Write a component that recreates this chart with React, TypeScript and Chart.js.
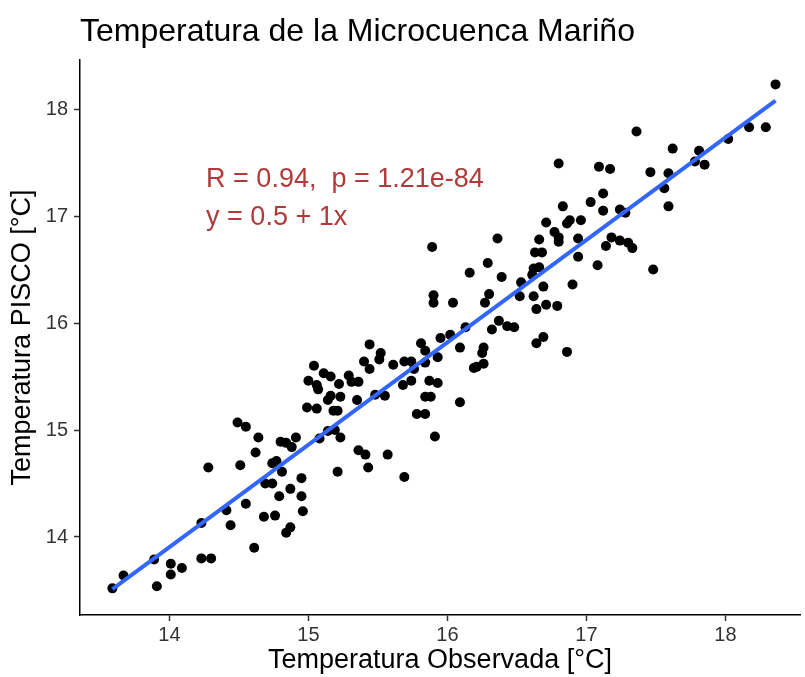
import React, { useEffect, useRef } from "react";
import { Chart, registerables } from "chart.js";

Chart.register(...registerables);

const observedTemp: number[] = [
  13.59, 13.67, 13.89, 13.91, 14.01, 14.01, 14.09, 14.23, 14.30, 14.23,
  14.28, 14.41, 14.44, 14.55, 14.49, 14.55, 14.64, 14.62, 14.51, 14.80,
  14.84, 14.74, 14.77, 14.81, 14.69, 14.74, 14.79, 14.87, 14.68, 14.76,
  14.87, 14.84, 14.61,
  15.44, 15.52, 15.51, 15.40, 15.44, 15.61, 15.69, 15.74, 15.81, 15.84,
  15.95, 16.02, 16.09, 15.93, 15.84, 15.76, 15.74, 15.68, 15.87, 15.93,
  15.84, 15.88, 15.78, 15.84, 15.91, 16.09, 16.19, 15.04, 15.00, 15.06,
  15.07, 15.11, 15.16, 15.22, 15.29, 15.31, 15.36, 15.16, 15.14, 15.23,
  14.99, 15.06, 15.18, 15.21, 15.35, 15.48, 15.55, 15.14, 15.19, 15.23,
  15.08, 14.91, 14.88, 14.95, 14.95, 15.21, 15.36, 15.41, 15.57, 15.43,
  15.69, 14.96,
  15.89, 16.36, 16.71, 16.86, 16.88, 16.96, 16.77, 16.80, 16.80, 16.66,
  16.94, 17.18, 17.14, 16.63, 16.68, 16.94, 16.29, 16.16, 16.62, 16.66,
  16.61, 16.39, 17.08, 16.53, 16.69, 16.90, 15.90, 15.90, 16.04, 16.30,
  16.27, 16.52, 16.62, 16.64, 16.71, 16.79, 16.37, 16.32, 16.43, 16.48,
  16.13, 16.26, 16.25, 16.21, 16.26, 16.64, 16.69, 16.86, 16.80, 16.83,
  18.36, 17.36, 17.62, 17.81, 17.78, 17.85, 18.02, 18.17, 18.29, 17.09,
  17.17, 17.46, 17.59, 17.56, 17.59, 17.12, 17.03, 17.12, 17.24, 17.28,
  17.24, 17.30, 17.33, 17.48,
];

const piscoTemp: number[] = [
  13.52, 13.64, 13.79, 13.54, 13.75, 13.65, 13.71, 13.80, 13.80, 14.13,
  14.65, 14.25, 14.11, 14.31, 15.07, 15.03, 14.93, 14.79, 14.67, 14.89,
  14.88, 14.69, 14.71, 14.61, 14.50, 14.50, 14.38, 14.45, 14.19, 14.20,
  14.09, 14.04, 13.90,
  15.80, 15.72, 15.66, 15.64, 15.57, 15.61, 15.64, 15.64, 15.81, 15.74,
  15.86, 15.89, 15.77, 15.68, 15.63, 15.57, 15.46, 15.42, 15.46, 15.44,
  15.31, 15.31, 15.15, 15.15, 14.94, 15.26, 15.58, 15.60, 15.46, 15.42,
  15.38, 15.53, 15.50, 15.43, 15.51, 15.45, 15.45, 15.32, 15.28, 15.31,
  15.21, 15.20, 15.18, 15.18, 15.28, 15.33, 15.32, 14.99, 15.00, 14.93,
  14.92, 14.93, 14.84, 14.55, 14.38, 14.61, 14.81, 14.77, 14.77, 14.65,
  14.56, 14.24,
  16.71, 16.79, 16.94, 16.93, 16.96, 16.96, 16.85, 16.80, 16.76, 16.78,
  16.79, 16.80, 16.72, 16.66, 16.66, 16.62, 16.56, 16.47, 16.51, 16.52,
  16.45, 16.43, 16.54, 16.38, 16.34, 16.36, 16.26, 16.19, 16.19, 16.27,
  16.19, 16.25, 16.25, 16.13, 16.17, 16.16, 16.02, 15.94, 15.97, 15.96,
  15.96, 15.77, 15.72, 15.59, 15.62, 15.81, 15.87, 15.73, 17.49, 17.09,
  18.23, 17.79, 17.63, 17.61, 17.51, 17.48, 17.72, 17.83, 17.83, 17.46,
  17.44, 17.41, 17.40, 17.26, 17.09, 17.21, 17.13, 17.05, 17.06, 17.03,
  16.77, 16.75, 16.70, 16.50,
];

const xTicks: number[] = [14, 15, 16, 17, 18];
const xTickLabels: string[] = ["14", "15", "16", "17", "18"];
const yTicks: number[] = [14, 15, 16, 17, 18];
const yTickLabels: string[] = ["14", "15", "16", "17", "18"];

const xRange: number[] = [13.357, 18.536];
const yRange: number[] = [13.271, 18.458];

const chartTitle = "Temperatura de la Microcuenca Mariño";
const xAxisTitle = "Temperatura Observada [°C]";
const yAxisTitle = "Temperatura PISCO [°C]";
const statLines: string[] = ["R = 0.94,  p = 1.21e-84", "y = 0.5 + 1x"];
const statAnchorX = 14.264;
const statAnchorY: number[] = [17.271, 16.916];

const FONT = '"Liberation Sans", Arial, Helvetica, sans-serif';

function linearFit(xs: number[], ys: number[]) {
  const n = xs.length;
  const mx = xs.reduce((a, b) => a + b, 0) / n;
  const my = ys.reduce((a, b) => a + b, 0) / n;
  let sxy = 0;
  let sxx = 0;
  for (let i = 0; i < n; i++) {
    sxy += (xs[i] - mx) * (ys[i] - my);
    sxx += (xs[i] - mx) * (xs[i] - mx);
  }
  const slope = sxy / sxx;
  return { slope, intercept: my - slope * mx };
}

const textPlugin = {
  id: "textOverlay",
  afterDatasetsDraw(chart: any) {
    const { ctx, chartArea, scales } = chart;
    ctx.save();
    ctx.textAlign = "left";
    ctx.textBaseline = "alphabetic";
    ctx.fillStyle = "#000000";
    ctx.font = `32px ${FONT}`;
    ctx.fillText(chartTitle, chartArea.left, chartArea.top - 19);
    ctx.fillStyle = "#B03A3A";
    ctx.font = `27px ${FONT}`;
    statLines.forEach((t, i) => {
      ctx.fillText(
        t,
        scales.x.getPixelForValue(statAnchorX),
        scales.y.getPixelForValue(statAnchorY[i])
      );
    });
    ctx.restore();
  },
};

export default function App() {
  const canvasRef = useRef<HTMLCanvasElement | null>(null);

  useEffect(() => {
    const canvas = canvasRef.current;
    if (!canvas) return;
    const points = observedTemp.map((x, i) => ({ x, y: piscoTemp[i] }));
    const { slope, intercept } = linearFit(observedTemp, piscoTemp);
    const xMin = Math.min(...observedTemp);
    const xMax = Math.max(...observedTemp);
    const fitLine = [
      { x: xMin, y: intercept + slope * xMin },
      { x: xMax, y: intercept + slope * xMax },
    ];

    const axisCommon = {
      grid: {
        display: true,
        drawOnChartArea: false,
        drawTicks: true,
        tickLength: 6,
        tickColor: "#333333",
        tickWidth: 1.5,
        color: "#333333",
      },
      border: { display: true, color: "#000000", width: 1.5 },
    };

    const chart = new Chart(canvas, {
      type: "scatter",
      data: {
        datasets: [
          {
            data: fitLine,
            showLine: true,
            borderColor: "#3366FF",
            borderWidth: 4,
            pointRadius: 0,
            fill: false,
            order: 0,
          } as any,
          {
            data: points,
            backgroundColor: "#000000",
            borderColor: "#000000",
            borderWidth: 0,
            pointRadius: 5,
            order: 1,
          },
        ],
      },
      options: {
        responsive: false,
        animation: false,
        devicePixelRatio: 1,
        layout: { padding: { top: 60, right: 0, bottom: 0, left: 0 } },
        plugins: {
          legend: { display: false },
          tooltip: { enabled: false },
          title: { display: false },
        },
        scales: {
          x: {
            type: "linear",
            min: xRange[0],
            max: xRange[1],
            ...axisCommon,
            afterBuildTicks: (s: any) => {
              s.ticks = xTicks.map((v) => ({ value: v }));
            },
            afterFit: (s: any) => {
              s.height = 62;
            },
            ticks: {
              autoSkip: false,
              maxRotation: 0,
              padding: 2,
              color: "#333333",
              font: { family: FONT, size: 20 },
              callback: (v: any) => xTickLabels[xTicks.indexOf(Number(v))] ?? "",
            },
            title: {
              display: true,
              text: xAxisTitle,
              color: "#000000",
              font: { family: FONT, size: 27, lineHeight: 1.2 },
              padding: { top: 0, bottom: 0 },
            },
          },
          y: {
            type: "linear",
            min: yRange[0],
            max: yRange[1],
            ...axisCommon,
            afterBuildTicks: (s: any) => {
              s.ticks = yTicks.map((v) => ({ value: v }));
            },
            afterFit: (s: any) => {
              s.width = 80;
            },
            ticks: {
              autoSkip: false,
              padding: 6,
              color: "#333333",
              font: { family: FONT, size: 20 },
              callback: (v: any) => yTickLabels[yTicks.indexOf(Number(v))] ?? "",
            },
            title: {
              display: true,
              text: yAxisTitle,
              color: "#000000",
              font: { family: FONT, size: 27, lineHeight: 1.2 },
              padding: { top: 6, bottom: 0 },
            },
          },
        },
      } as any,
      plugins: [textPlugin],
    });

    return () => {
      chart.destroy();
    };
  }, []);

  return (
    <div
      style={{
        position: "fixed",
        left: 0,
        top: 0,
        width: 805,
        height: 677,
        background: "#ffffff",
        overflow: "hidden",
      }}
    >
      <canvas ref={canvasRef} width={805} height={677} style={{ display: "block" }} />
    </div>
  );
}
